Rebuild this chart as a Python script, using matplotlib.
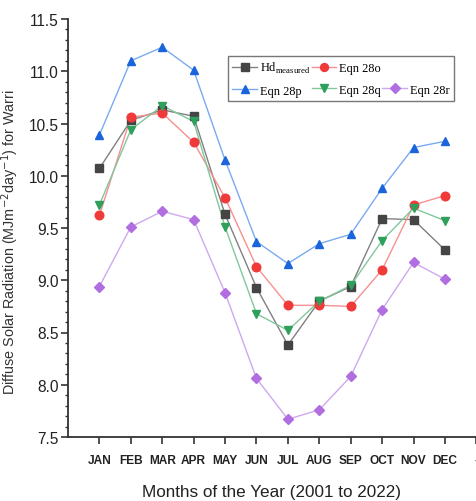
import numpy as np
import matplotlib
matplotlib.use("Agg")
import matplotlib.pyplot as plt
from matplotlib.lines import Line2D
from matplotlib.ticker import MultipleLocator, FixedLocator

months = ['JAN', 'FEB', 'MAR', 'APR', 'MAY', 'JUN', 'JUL', 'AUG', 'SEP', 'OCT', 'NOV', 'DEC', '-']

hd_measured = [10.07, 10.53, 10.63, 10.57, 9.63, 8.93, 8.38, 8.80, 8.94, 9.59, 9.58, 9.29]
eqn_28o = [9.62, 10.56, 10.60, 10.32, 9.79, 9.13, 8.76, 8.76, 8.75, 9.10, 9.72, 9.81]
eqn_28p = [10.39, 11.10, 11.23, 11.01, 10.15, 9.37, 9.16, 9.35, 9.44, 9.88, 10.27, 10.33]
eqn_28q = [9.72, 10.44, 10.67, 10.52, 9.51, 8.68, 8.52, 8.80, 8.95, 9.38, 9.69, 9.57]
eqn_28r = [8.94, 9.51, 9.66, 9.58, 8.88, 8.06, 7.67, 7.76, 8.08, 8.72, 9.17, 9.01]

sans = ['Liberation Sans', 'DejaVu Sans']
serif = ['Liberation Serif', 'DejaVu Serif']

fig = plt.figure(figsize=(4.77, 5.02), dpi=100)
ax = fig.add_axes([68 / 477, 64 / 502, 409 / 477, 418 / 502])

x = np.arange(1, 13)
series = [
    (hd_measured, 's', '#454545', '#808080', 'Hd$_{\\mathregular{measured}}$'),
    (eqn_28o, 'o', '#f03a3a', '#f79090', 'Eqn 28o'),
    (eqn_28p, '^', '#1a64dc', '#7aaaf0', 'Eqn 28p'),
    (eqn_28q, 'v', '#2ea05c', '#80c89c', 'Eqn 28q'),
    (eqn_28r, 'D', '#b06ee0', '#cfa8ee', 'Eqn 28r'),
]
handles = []
for vals, mk, mc, lc, lab in series:
    ms = 5.5 if mk == 'D' else 6.2
    ax.plot(x, vals, color=lc, lw=1.0, zorder=2)
    ax.plot(x, vals, ls='none', marker=mk, ms=ms, mfc=mc, mec=mc, zorder=3)
    handles.append(Line2D([], [], color=lc, lw=1.0, marker=mk, ms=ms - 0.5, mfc=mc, mec=mc, label=lab))

ax.set_xlim(0, 13.02)
ax.set_ylim(7.5, 11.5)
ax.set_xticks(np.arange(1, 14))
ax.set_xticklabels(months, fontfamily=sans, fontweight='bold', fontsize=8.6)
yt = np.arange(7.5, 11.51, 0.5)
ax.yaxis.set_major_locator(FixedLocator(yt))
ax.set_yticklabels([f'{v:.1f}' for v in yt], fontfamily=sans, fontsize=11.2)
ax.yaxis.set_minor_locator(MultipleLocator(0.1))
ax.tick_params(axis='both', which='major', direction='out', length=5, width=1.2, color='#333333', labelcolor='#222222')
ax.tick_params(axis='y', which='major', pad=1.5)
ax.tick_params(axis='y', which='minor', direction='out', length=2.5, width=1.0, color='#333333')
ax.tick_params(axis='x', which='major', pad=7)

for s in ['top', 'right']:
    ax.spines[s].set_visible(False)
for s in ['left', 'bottom']:
    ax.spines[s].set_linewidth(1.3)
    ax.spines[s].set_color('#333333')

ax.set_ylabel('Diffuse Solar Radiation (MJm$^{-2}$day$^{-1}$) for Warri', fontfamily=sans, fontsize=10.4, color='#333333')
ax.yaxis.set_label_coords(-47 / 409, (438 - 242) / 418)
ax.set_xlabel('Months of the Year (2001 to 2022)', fontfamily=sans, fontsize=12.3, color='#222222')
ax.xaxis.set_label_coords((272 - 68) / 409, -47 / 418)

blank = Line2D([], [], ls='none', marker='none')
order = [handles[0], handles[2], handles[1], handles[3], blank, handles[4]]
labels = [h.get_label() for h in handles]
leg = ax.legend(order, [labels[0], labels[2], labels[1], labels[3], '', labels[4]], ncol=3,
                loc='upper left', bbox_to_anchor=((228 - 68) / 409, (438 - 57) / 418),
                prop={'family': serif, 'size': 8.9}, frameon=True, fancybox=False,
                edgecolor='#555555', handlelength=2.0, handletextpad=0.25, columnspacing=0.1,
                borderpad=0.35, labelspacing=0.75, borderaxespad=0)
leg.get_frame().set_linewidth(1.0)

fig.savefig('out.png', dpi=100)
